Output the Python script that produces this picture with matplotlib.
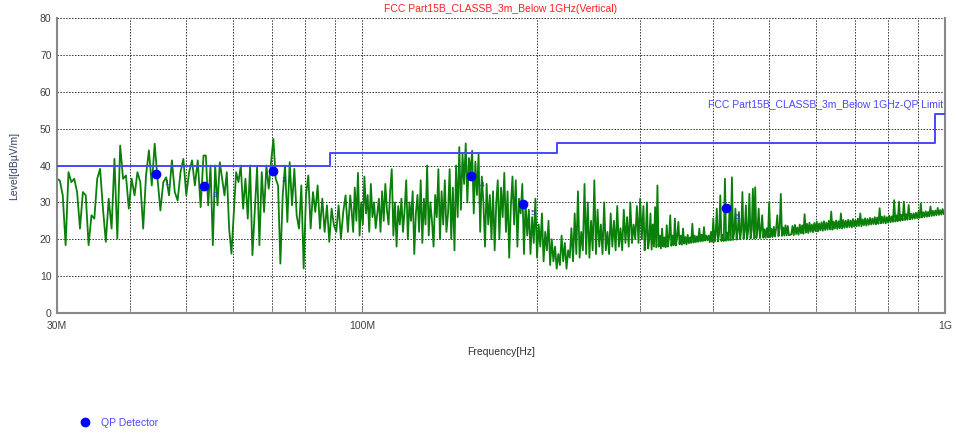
import matplotlib

matplotlib.use("Agg")
import matplotlib.pyplot as plt
import numpy as np
from matplotlib.lines import Line2D
from matplotlib.ticker import FixedLocator, NullFormatter

plt.rcParams["font.family"] = ["Liberation Sans", "DejaVu Sans"]

TITLE = "FCC Part15B_CLASSB_3m_Below 1GHz(Vertical)"
LIMIT_LABEL = "FCC Part15B_CLASSB_3m_Below 1GHz-QP Limit"

# limit line, MHz / dBuV/m (step edges)
limit_freq = [30, 88, 88, 216, 216, 960, 960, 1000]
limit_level = [40, 40, 43.5, 43.5, 46, 46, 54, 54]

# QP detector readings
qp_freq = [44.3, 53.6, 70.4, 154.1, 188.7, 421.6]
qp_level = [37.7, 34.4, 38.6, 37.1, 29.6, 28.5]
qp_names = ["1", "2", "3", "4", "5", "6"]

# peak sweep (start MHz, stop MHz, levels)
band1 = (30.0, 53.5, [
    36.4, 35.9, 31.9, 18.4, 38.2, 35.5, 36.4, 32.8, 22.9, 32.8, 31.9, 18.4, 26.5,
    25.6, 36.4, 39.1, 28.3, 19.3, 31.0, 22.9, 41.8, 20.2, 45.4, 36.4, 37.3, 28.3,
    36.4, 31.9, 38.2, 35.5, 22.9, 37.3, 44.1, 34.6, 45.9, 36.4, 27.8, 35.5, 36.8,
    31.9, 41.4, 32.8, 30.5, 38.2, 41.8, 31.9, 38.2, 41.4, 34.6, 41.4, 28.7, 42.7,
])
band2 = (54.0, 95.5, [
    42.7, 29.2, 40.0, 18.4, 40.0, 29.2, 40.9, 36.4, 31.9, 38.2, 22.9, 16.1, 27.4,
    38.2, 35.5, 40.0, 28.3, 36.4, 25.6, 40.0, 15.7, 27.4, 39.5, 18.4, 38.2, 27.4,
    40.0, 33.7, 40.9, 47.2, 36.4, 34.6, 13.4, 31.9, 40.0, 24.7, 40.9, 29.2, 39.1,
    26.5, 22.9, 34.6, 12.1, 31.9, 37.3, 22.9, 32.8, 27.4, 34.6, 22.9, 31.0, 22.0,
    29.2, 19.3, 28.3, 23.8, 22.0, 29.2, 20.2, 27.4, 31.9, 22.0, 31.9,
])
band3 = (96.0, 170.0, [
    28, 22, 34, 25, 38, 21, 30, 24, 37, 27, 32, 22, 35, 26, 30, 23, 27, 31, 22,
    33, 25, 35, 28, 24, 33, 39, 21, 30, 18, 29, 24, 31, 22, 28, 36, 20, 30, 25,
    33, 16, 27, 32, 22, 36, 19, 31, 24, 40, 21, 30, 25, 18, 32, 26, 39, 20, 33,
    24, 36, 22, 27, 39, 20, 34, 17, 40, 26, 45, 28, 43, 35, 46, 30, 42, 38, 44,
    27, 41, 32, 43, 22, 37, 30, 18, 35, 24, 32, 20, 33, 17, 30,
])
band4 = (171.0, 302.0, [
    36, 20, 34, 26, 38, 22, 33, 15, 29, 37, 24, 36, 18, 31, 27, 35, 16, 30, 21,
    28, 16, 26, 19, 31, 15, 24, 18, 27, 14, 22, 17, 25, 13, 20, 14, 18, 12, 16,
    13, 21, 14, 19, 12, 17, 15, 23, 14, 27, 16, 33, 15, 22, 17, 35, 16, 30, 15,
    25, 17, 36, 16, 28, 18, 24, 16, 30, 17, 22, 16, 27, 18, 25, 17, 29, 18, 23,
    17, 28, 19, 26, 18, 30, 19, 24, 20, 29, 19, 31, 20,
])
band5 = (304.0, 540.0, [
    29.0, 17.0, 21.0, 30.0, 17.5, 20.0, 27.0, 17.2, 24.0, 18.0, 28.7, 17.8, 34.6,
    18.0, 21.0, 17.5, 22.9, 18.0, 20.5, 17.8,
    23.8, 18.0, 20.5, 26.5, 18.2, 21.0, 18.4, 25.6, 18.3, 20.8, 24.7, 18.6, 21.0,
    18.5, 22.9, 18.8, 20.6, 18.6, 21.2, 18.9, 20.5, 19.0, 24.2, 19.1, 21.0, 19.2,
    20.8, 19.3, 22.9, 19.4, 21.2, 19.5, 23.3, 19.6, 21.0, 19.7,
    21.0, 19.2, 22.0, 19.3, 25.6, 19.3, 21.2, 28.3, 19.4, 21.5, 31.9, 19.5, 21.2,
    19.5, 36.4, 19.6, 21.8, 19.7, 29.2, 19.7,
    36.8, 19.8, 22.0, 28.3, 19.9, 22.1, 27.4, 20.0, 22.3, 32.8, 20.1, 22.0, 29.2,
    20.1, 22.4, 32.3, 20.2, 22.5, 33.7, 20.2, 34.1, 20.3, 22.6, 28.3, 20.3, 22.5,
    26.5, 20.4, 22.7, 20.4,
    23.0, 20.5, 30.1, 20.6, 22.8, 20.6, 23.4, 20.7, 23.0, 26.5, 20.8, 23.1, 32.3,
    20.9, 23.2, 21.0, 23.8, 21.0, 23.6, 21.1,
])
band6 = (545.0, 1000.0, [
    21.3, 23.6, 21.1, 23.9, 21.4, 23.2, 21.2, 24.0, 21.6, 23.8, 21.5, 26.8, 21.8,
    24.2, 21.7, 24.5, 22.0, 24.0, 21.9, 24.4, 22.2, 24.8, 22.1, 24.3, 22.4, 24.6,
    22.3, 24.9, 22.5, 24.5, 22.6, 25.0, 22.7, 27.5, 22.6, 24.8, 22.9, 25.1, 22.8,
    24.9, 23.0, 27.0, 22.9, 25.2, 23.1, 25.0, 23.2, 25.3, 23.3, 25.1, 23.2, 25.5,
    23.4, 25.2, 23.5, 25.6, 23.6, 27.0, 23.5, 25.4, 23.8, 25.7, 23.7, 25.5, 23.9,
    25.8, 24.0, 25.6, 24.1, 26.0, 24.0, 25.9, 24.2, 28.4, 24.3, 26.1, 24.4, 26.3,
    24.3, 26.0, 24.5, 26.4, 24.6, 26.2, 24.7, 30.6, 24.8, 26.5, 24.9, 30.2, 25.0,
    26.6, 25.1, 30.2, 25.2, 26.8, 25.3, 29.3, 25.4, 26.9, 25.5, 27.0, 25.6, 27.2,
    25.7, 27.4, 25.8, 29.7, 25.9, 27.3, 26.0, 27.6, 26.1, 27.4, 26.2, 28.9, 26.3,
    27.7, 26.4, 27.8, 26.5, 28.5, 26.6, 27.9, 26.7, 28.2, 26.8, 28.0,
])
SWEEP_BANDS = [band1, band2, band3, band4, band5, band6]

MAJOR_TICKS = [30, 100, 1000]
MAJOR_LABELS = ["30M", "100M", "1G"]
MINOR_TICKS = [40, 50, 60, 70, 80, 90, 200, 300, 400, 500, 600, 700, 800, 900]


def sweep_arrays():
    freqs, levels = [], []
    for start, stop, vals in SWEEP_BANDS:
        freqs.append(np.geomspace(start, stop, len(vals)))
        levels.append(np.asarray(vals, dtype=float))
    return np.concatenate(freqs), np.concatenate(levels)


def main():
    W, H = 956, 434
    fig = plt.figure(figsize=(W / 100, H / 100), dpi=100)
    ax = fig.add_axes([57 / W, 1 - 313 / H, 888 / W, 295 / H])

    freq, level = sweep_arrays()
    ax.plot(freq, level, color="#0a800a", linewidth=1.3, zorder=2)
    ax.plot(limit_freq, limit_level, color="#4848ff", linewidth=1.4, zorder=3)
    ax.plot(qp_freq, qp_level, "o", color="#0000ff", markersize=6, zorder=4)
    for f, v, n in zip(qp_freq, qp_level, qp_names):
        ax.annotate(n, (f, v), xytext=(6, -8), textcoords="offset points",
                    fontsize=6, color="#3030c0")

    ax.set_xscale("log")
    ax.set_xlim(30, 1000)
    ax.set_ylim(0, 80)
    ax.xaxis.set_major_locator(FixedLocator(MAJOR_TICKS))
    ax.xaxis.set_minor_locator(FixedLocator(MINOR_TICKS))
    ax.xaxis.set_minor_formatter(NullFormatter())
    ax.set_xticklabels(MAJOR_LABELS)
    ax.set_yticks(range(0, 81, 10))

    ax.grid(True, which="both", color="#303030", linestyle=(0, (1.5, 1.5)), linewidth=0.7)
    ax.set_axisbelow(True)
    ax.tick_params(axis="x", which="both", direction="in", length=5, color="#808080",
                   labelsize=7.5, labelcolor="#404040", pad=6)
    ax.tick_params(axis="y", which="both", direction="in", length=0,
                   labelsize=7.5, labelcolor="#404040", pad=4)
    for side in ("left", "bottom", "right"):
        ax.spines[side].set_color("#888888")
        ax.spines[side].set_linewidth(1.5)
    ax.spines["top"].set_visible(False)

    ax.set_xlabel("Frequency[Hz]", fontsize=7.5, color="#303030", labelpad=11)
    ax.set_ylabel("Level[dBµV/m]", fontsize=7.5, color="#304060")
    ax.yaxis.set_label_coords(-38 / 888, 0.5)
    ax.set_title(TITLE, fontsize=7.5, color="#ff2020", pad=4)
    ax.text(0.998, 56.5, LIMIT_LABEL, transform=ax.get_yaxis_transform(),
            ha="right", va="center", fontsize=7.5, color="#4848ff")

    handle = Line2D([], [], marker="o", linestyle="", color="#0000ff", markersize=6)
    fig.legend([handle], ["QP Detector"], loc="center left",
               bbox_to_anchor=(65 / W, 1 - 423 / H), frameon=False,
               fontsize=7.5, labelcolor="#4848ff", handletextpad=0.6)

    fig.savefig("out.png", dpi=100)
    plt.close(fig)


if __name__ == "__main__":
    main()
